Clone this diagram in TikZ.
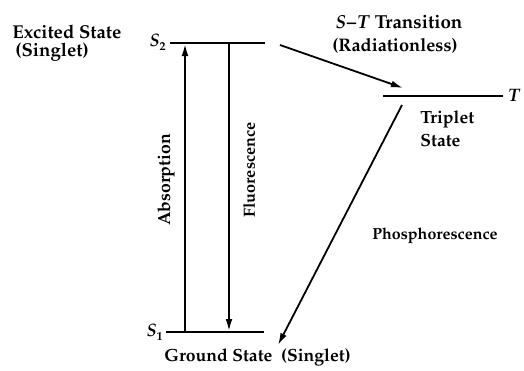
\documentclass[tikz,border=0pt]{standalone}
\usepackage[T1]{fontenc}
\usepackage{mathpazo}
\usetikzlibrary{arrows.meta}
\begin{document}
\begin{tikzpicture}[x=0.5pt,y=-0.5pt,
  level/.style={line width=0.9pt},
  trans/.style={line width=0.9pt,-{Latex[length=6pt,width=3.4pt]}},
  lbl/.style={font=\bfseries\fontsize{8.8}{10}\selectfont,inner sep=0pt},
  sym/.style={font=\bfseries\fontsize{9}{10}\selectfont,inner sep=0pt}]
\useasboundingbox (0,0) rectangle (524,370);
% levels
\coordinate (s2a) at (170,43); \coordinate (s2b) at (265,43);
\coordinate (s1a) at (166,332); \coordinate (s1b) at (264,332);
\coordinate (ta) at (383,96); \coordinate (tb) at (503,96);
\draw[level] (s2a) -- (s2b);
\draw[level] (s1a) -- (s1b);
\draw[level] (ta) -- (tb);
% transition endpoints
\coordinate (absB) at (185,332); \coordinate (absT) at (185,44);
\coordinate (fluT) at (229,43); \coordinate (fluB) at (229,331);
\coordinate (stA) at (280,45); \coordinate (stB) at (403,88);
\coordinate (phA) at (402,105); \coordinate (phB) at (278,345);
\draw[trans] (absB) -- (absT);
\draw[trans] (fluT) -- (fluB);
\draw[trans] (stA) -- (stB);
\draw[trans] (phA) -- (phB);
% labels
\node[lbl,font=\bfseries\fontsize{9.3}{10}\selectfont,anchor=west] (exc) at (12,32) {Excited State};
\node[lbl,font=\bfseries\fontsize{9.3}{10}\selectfont,anchor=west] (sing1) at (15,52) {(Singlet)};
\node[sym,anchor=east] (s2l) at (166,42) {\textit{S}\raisebox{-2.2pt}{\fontsize{6}{6}\selectfont 2}};
\node[sym,anchor=east] (s1l) at (163,332) {\textit{S}\raisebox{-2.2pt}{\fontsize{6}{6}\selectfont 1}};
\node[sym,anchor=west] (tl) at (508,96) {\textit{T}};
\node[lbl,font=\bfseries\fontsize{9.4}{10}\selectfont] (st1) at (399,22) {\textit{S}\kern0.5pt--\kern0.5pt\textit{T}\ Transition};
\node[lbl,font=\bfseries\fontsize{9.1}{10}\selectfont] (st2) at (395,46) {(Radiationless)};
\node[lbl,anchor=west] (trip) at (420,119) {Triplet};
\node[lbl,anchor=west] (trst) at (420,140) {State};
\node[lbl,rotate=90] (abs) at (166,180) {Absorption};
\node[lbl,font=\bfseries\fontsize{8.1}{9}\selectfont,rotate=90] (flu) at (249,170) {Fluorescence};
\node[lbl,font=\bfseries\fontsize{8}{9}\selectfont,anchor=west] (pho) at (372,236) {Phosphorescence};
\node[lbl,anchor=west] (gnd) at (164,357) {Ground State\ \ (Singlet)};
\end{tikzpicture}
\end{document}
